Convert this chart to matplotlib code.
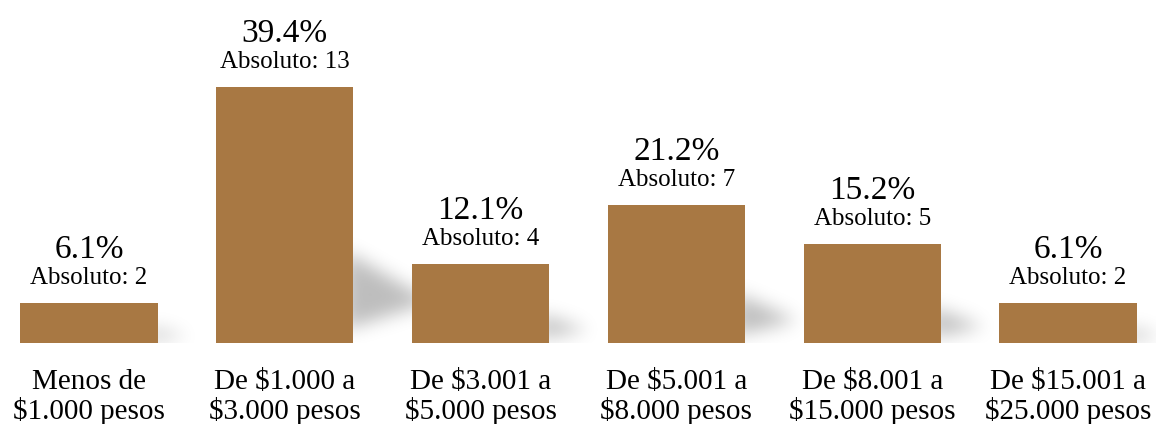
import numpy as np
import matplotlib.pyplot as plt
from matplotlib.path import Path

# ─── DATOS ───────────────────────────────────────
categorias = ['Menos de\n$1.000 pesos', 'De $1.000 a\n$3.000 pesos',
              'De $3.001 a\n$5.000 pesos', 'De $5.001 a\n$8.000 pesos',
              'De $8.001 a\n$15.000 pesos', 'De $15.001 a\n$25.000 pesos']
porcentajes = [6.1, 39.4, 12.1, 21.2, 15.2, 6.1]
absolutos = [2, 13, 4, 7, 5, 2]

plt.rcParams['font.family'] = ['Liberation Serif', 'DejaVu Serif']

fig = plt.figure(figsize=(11.56, 4.24), dpi=100)
ax = fig.add_axes([0, 81 / 424, 1, 343 / 424])

x = np.arange(len(categorias))
ancho = 0.70
color = '#A87843'
xlim = (-89 / 195.8, (1156 - 89) / 195.8)
ylim = (0, 343 / 6.5)

# ─── SOMBRA DIFUSA ───────────────────────────────
nx, ny = 1156, 343
gx = np.linspace(xlim[0], xlim[1], nx)
gy = np.linspace(ylim[0], ylim[1], ny)
GX, GY = np.meshgrid(gx, gy)
puntos = np.column_stack([GX.ravel(), GY.ravel()])
mascara = np.zeros(GX.size)
for xi, h in zip(x, porcentajes):
    xr = xi + ancho / 2
    largo = 0.11 + 0.0075 * h
    tri = Path([(xr - 0.05, 0.05 * h), (xr - 0.05, 0.36 * h),
                (xr + largo, 0.16 * h), (xr - 0.05, 0.05 * h)])
    mascara = np.maximum(mascara, tri.contains_points(puntos))
mascara = mascara.reshape(ny, nx).astype(float)

sigma = 9
k = np.arange(-3 * sigma, 3 * sigma + 1)
kern = np.exp(-k**2 / (2 * sigma**2))
kern /= kern.sum()
mascara = np.apply_along_axis(lambda r: np.convolve(r, kern, mode='same'), 1, mascara)
mascara = np.apply_along_axis(lambda c: np.convolve(c, kern, mode='same'), 0, mascara)

sombra = np.zeros((ny, nx, 4))
sombra[..., 3] = 0.26 * mascara
ax.imshow(sombra, extent=(xlim[0], xlim[1], ylim[0], ylim[1]), origin='lower',
          aspect='auto', interpolation='bilinear', zorder=1)

# ─── BARRAS Y ETIQUETAS ──────────────────────────
bars = ax.bar(x, porcentajes, width=ancho, color=color, zorder=2)

for xi, p, a in zip(x, porcentajes, absolutos):
    ax.annotate(f'Absoluto: {a}', (xi, p), xytext=(0, 13.7),
                textcoords='offset points', ha='center', va='baseline',
                fontsize=18)
    ax.annotate(f'{p:.1f}%', (xi, p), xytext=(0, 32.4),
                textcoords='offset points', ha='center', va='baseline',
                fontsize=24)

ax.set_xlim(*xlim)
ax.set_ylim(*ylim)
ax.set_xticks(x)
ax.set_xticklabels(categorias, fontsize=21, linespacing=1.1)
ax.tick_params(axis='x', length=0, pad=18.5)
ax.set_yticks([])
for sp in ax.spines.values():
    sp.set_visible(False)

plt.savefig('out.png', dpi=100)
